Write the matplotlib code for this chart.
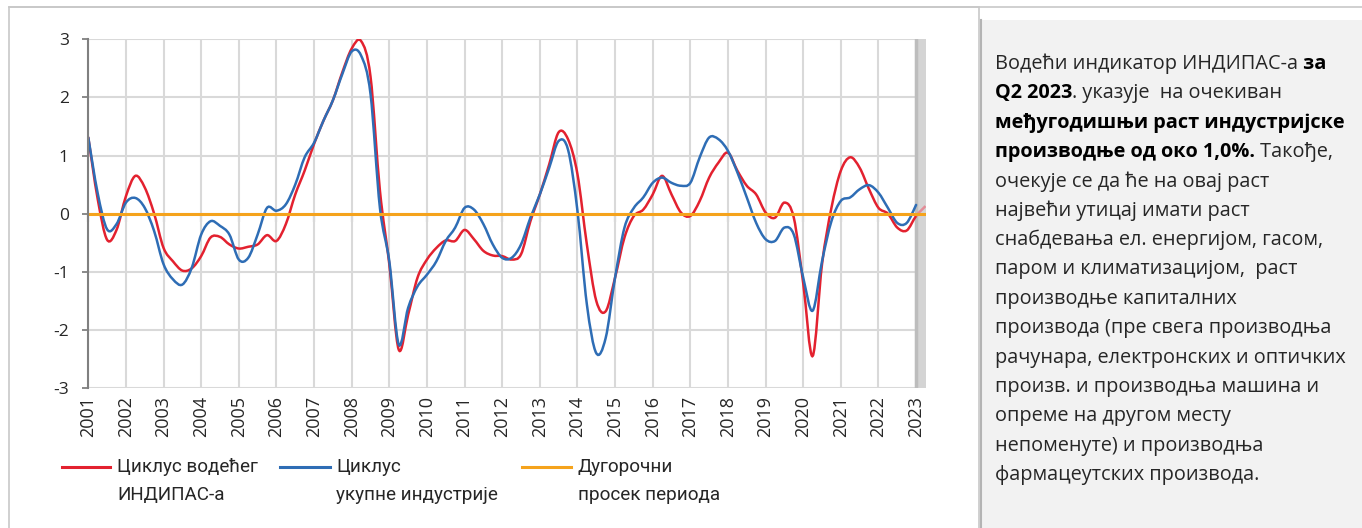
import matplotlib
matplotlib.use("Agg")
import matplotlib.pyplot as plt
import numpy as np
from matplotlib.path import Path
from matplotlib.patches import PathPatch, Rectangle
from matplotlib.lines import Line2D

# Quarterly data 2001Q1 - 2023Q2
years = list(range(2001, 2024))
indipas = [1.31, 0.25, -0.45, -0.28, 0.30, 0.65, 0.45, 0.00,
           -0.59, -0.82, -0.98, -0.94, -0.73, -0.41, -0.40, -0.53,
           -0.60, -0.57, -0.53, -0.37, -0.47, -0.18, 0.33, 0.74,
           1.20, 1.60, 1.95, 2.43, 2.84, 2.97, 2.36, 0.40,
           -0.87, -2.34, -1.74, -1.10, -0.79, -0.59, -0.46, -0.47,
           -0.28, -0.44, -0.64, -0.72, -0.73, -0.79, -0.70, -0.13,
           0.33, 0.85, 1.40, 1.28, 0.68, -0.53, -1.50, -1.68,
           -1.10, -0.41, -0.04, 0.07, 0.33, 0.65, 0.33, 0.02,
           -0.04, 0.22, 0.62, 0.88, 1.05, 0.74, 0.48, 0.33,
           0.02, -0.07, 0.19, -0.07, -1.20, -2.45, -0.87, 0.10,
           0.74, 0.97, 0.79, 0.42, 0.10, 0.00, -0.24, -0.29,
           -0.04, 0.13]
industrija = [1.31, 0.35, -0.27, -0.18, 0.19, 0.27, 0.10, -0.30,
              -0.87, -1.13, -1.22, -0.93, -0.36, -0.13, -0.21, -0.36,
              -0.79, -0.76, -0.36, 0.10, 0.05, 0.16, 0.50, 0.97,
              1.22, 1.60, 1.95, 2.40, 2.79, 2.72, 2.06, 0.10,
              -0.82, -2.25, -1.62, -1.25, -1.05, -0.82, -0.47, -0.24,
              0.10, 0.07, -0.18, -0.53, -0.76, -0.76, -0.53, -0.07,
              0.33, 0.79, 1.25, 1.10, 0.05, -1.56, -2.40, -2.14,
              -1.10, -0.24, 0.10, 0.28, 0.53, 0.62, 0.53, 0.48,
              0.53, 0.97, 1.31, 1.28, 1.08, 0.71, 0.28, -0.16,
              -0.44, -0.47, -0.24, -0.36, -1.10, -1.67, -0.82, -0.13,
              0.22, 0.28, 0.42, 0.49, 0.36, 0.10, -0.16, -0.16,
              0.15]
prosek = 0.0
labels = ['Циклус водећег\nИНДИПАС-а', 'Циклус\nукупне индустрије', 'Дугорочни\nпросек периода']

# text on the right, (text, bold) pieces per row
rows = [
    [('Водећи индикатор ИНДИПАС-а', False), (' за', True)],
    [('Q2 2023', True), ('. указује  на очекиван', False)],
    [('међугодишњи раст индустријске', True)],
    [('производње од око 1,0%.', True), (' Такође,', False)],
    [('очекује се да ће на овај раст', False)],
    [('највећи утицај имати раст', False)],
    [('снабдевања ел. енергијом, гасом,', False)],
    [('паром и климатизацијом,  раст', False)],
    [('производње капиталних', False)],
    [('производа (пре свега производња', False)],
    [('рачунара, електронских и оптичких', False)],
    [('произв. и производња машина и', False)],
    [('опреме на другом месту', False)],
    [('непоменуте) и производња', False)],
    [('фармацеутских производа.', False)],
]

W, H = 1362, 528
def fx(p): return p / W
def fy(p): return 1 - p / H

# smoothed line like excel (catmull-rom written as bezier segments)
def smooth_segments(x, y):
    n = len(x)
    segs = []
    for i in range(n - 1):
        a = i - 1 if i > 0 else i
        d = i + 2 if i + 2 < n else i + 1
        c1 = (x[i] + (x[i + 1] - x[a]) / 6, y[i] + (y[i + 1] - y[a]) / 6)
        c2 = (x[i + 1] - (x[d] - x[i]) / 6, y[i + 1] - (y[d] - y[i]) / 6)
        segs.append([(x[i], y[i]), c1, c2, (x[i + 1], y[i + 1])])
    return segs

def make_path(segs):
    verts = [segs[0][0]]
    codes = [Path.MOVETO]
    for s in segs:
        verts += s[1:]
        codes += [Path.CURVE4] * 3
    return Path(verts, codes)

red = '#e3212f'
blue = '#2e6db5'
orange = '#f5a31c'

fig = plt.figure(figsize=(W / 100, H / 100), dpi=100)

# frames (behind the axes)
fig.add_artist(Rectangle((fx(9), fy(560)), fx(979) - fx(9), fy(7) - fy(560),
                         transform=fig.transFigure, facecolor='white', edgecolor='#c8c8c8',
                         lw=1.2, zorder=-10))
fig.add_artist(Line2D([fx(9), 1], [fy(7), fy(7)], color='#c8c8c8', lw=1.2, zorder=-9))
fig.add_artist(Rectangle((fx(981), 0), 1 - fx(981), fy(20), transform=fig.transFigure,
                         facecolor='#f2f2f2', edgecolor='none', zorder=-9))
fig.add_artist(Line2D([fx(981), fx(981)], [0, fy(20)], color='#b4b4b4', lw=1.5, zorder=-8))

ax = fig.add_axes([fx(88.3), fy(388), fx(925.5) - fx(88.3), fy(39.3) - fy(388)])
ax.patch.set_alpha(0)
n = len(indipas)
x_red = np.arange(n)
x_blue = np.arange(len(industrija))

ax.set_xlim(0, n - 1)
ax.set_ylim(-3, 3)

# last quarter band
ax.axvspan(x_blue[-1], n - 1, color='#d4d4d4', zorder=1, lw=0)
ax.axvline(x_blue[-1], color='#bdbdbd', lw=2.5, zorder=1)

segs_r = smooth_segments(x_red, indipas)
ax.add_patch(PathPatch(make_path(segs_r[:-1]), fill=False, edgecolor=red, lw=1.8, zorder=3,
                       capstyle='round'))
ax.add_patch(PathPatch(make_path(segs_r[-1:]), fill=False, edgecolor='#e48c97', lw=1.8, zorder=3))
segs_b = smooth_segments(x_blue, industrija)
ax.add_patch(PathPatch(make_path(segs_b), fill=False, edgecolor=blue, lw=1.8, zorder=4,
                       capstyle='round'))
ax.axhline(prosek, color=orange, lw=2.2, zorder=5)

tick_pos = np.arange(0, n, 4)
ax.set_xticks(tick_pos)
ax.set_xticklabels([str(y) for y in years], rotation=90, fontsize=13, family='Open Sans',
                   color='#262626')
ax.tick_params(axis='x', length=0, pad=6)
ax.set_yticks(range(-3, 4))
ax.set_yticklabels([str(v) for v in range(-3, 4)], fontsize=12.5, family='Open Sans',
                   color='#262626')
ax.tick_params(axis='y', direction='out', length=4, width=1.3, color='#808080', pad=10)
ax.grid(True, color='#d9d9d9', lw=1.5)
ax.set_axisbelow(True)
for s in ['top', 'right', 'bottom']:
    ax.spines[s].set_visible(False)
ax.spines['left'].set_color('#808080')
ax.spines['left'].set_linewidth(1.5)
ax.spines['left'].set_zorder(6)

# small ticks on the zero line
sec = ax.secondary_xaxis(0.5)
sec.set_alignment('bottom')
sec.set_xticks(tick_pos)
sec.tick_params(axis='x', direction='out', length=5.5, width=1.5, color='#808080',
                labelbottom=False, labeltop=False)
for s in sec.spines.values():
    s.set_visible(False)

# legend
leg_items = [(red, 62, 110, 117), (blue, 280, 330, 336), (orange, 522, 571, 578)]
for (c, x0, x1, xt), lab in zip(leg_items, labels):
    fig.add_artist(Line2D([fx(x0), fx(x1)], [fy(467), fy(467)], color=c, lw=2.2))
    for k, line in enumerate(lab.split('\n')):
        fig.text(fx(xt), fy(467 + 28 * k), line, fontsize=13.6, family='Roboto',
                 va='center', ha='left', color='#262626')

# text panel
renderer = fig.canvas.get_renderer()
for r, parts in enumerate(rows):
    ypx = 64 + 29.35 * r
    xpx = 995
    for t, b in parts:
        tx = fig.text(fx(xpx), fy(ypx), t, fontsize=14.3, family='Open Sans',
                      fontweight='bold' if b else 'normal',
                      color='black' if b else '#262626', va='center', ha='left')
        xpx = tx.get_window_extent(renderer=renderer).x1

fig.savefig('out.png', dpi=100)
